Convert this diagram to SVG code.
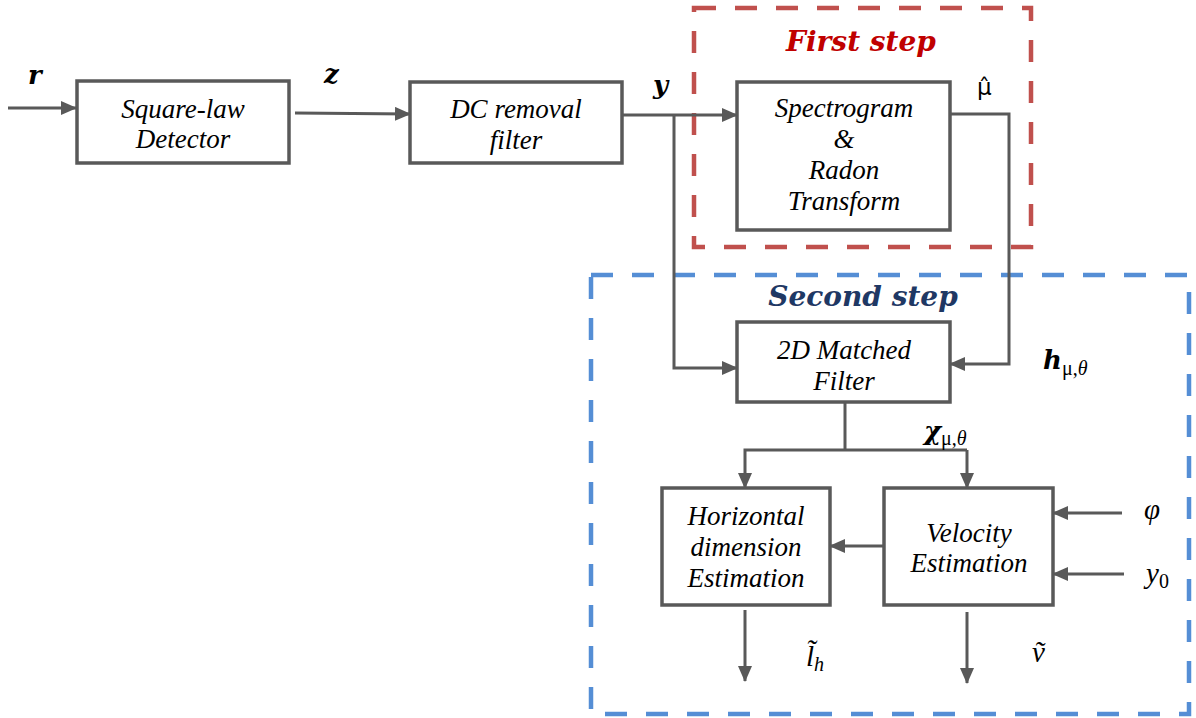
<svg xmlns="http://www.w3.org/2000/svg" width="1196" height="718" viewBox="0 0 1196 718">
  <defs>
    <marker id="arrow" markerUnits="userSpaceOnUse" markerWidth="16" markerHeight="14" refX="15" refY="7" orient="auto">
      <path d="M0,0 L16,7 L0,14 Z" fill="#595959"/>
    </marker>
    <style>
      .box { fill: #ffffff; stroke: #595959; stroke-width: 3.5; }
      .wire { fill: none; stroke: #595959; stroke-width: 3; }
      .arr { fill: none; stroke: #595959; stroke-width: 3; marker-end: url(#arrow); }
      .lbl { font-family: "Liberation Serif", "Times New Roman", serif; font-style: italic; font-size: 27px; fill: #000; text-anchor: middle; }
      .math { font-family: "Liberation Serif", "Times New Roman", serif; font-style: italic; font-size: 29px; fill: #000; }
      .bm { font-family: "DejaVu Serif", serif; font-style: italic; font-weight: bold; font-size: 26px; fill: #000; }
      .sub { font-family: "Liberation Serif", "Times New Roman", serif; font-size: 20px; fill: #000; }
      .step { font-family: "DejaVu Serif", serif; font-style: italic; font-weight: bold; font-size: 28px; text-anchor: middle; }
    </style>
  </defs>

  <!-- stage frames -->
  <g id="first-step">
    <rect x="694" y="8" width="337" height="239" fill="none" stroke="#C0504D" stroke-width="4.5" stroke-dasharray="22 19"/>
    <text class="step" x="861" y="51" fill="#C00000">First step</text>
  </g>
  <g id="second-step">
    <rect x="591" y="275" width="598" height="439" fill="none" stroke="#558ED5" stroke-width="4.5" stroke-dasharray="22 19"/>
    <text class="step" x="863" y="306" fill="#1F3864">Second step</text>
  </g>

  <!-- connectors -->
  <g id="connectors">
    <line class="arr" x1="8" y1="108" x2="76" y2="108"/>
    <line class="arr" x1="295" y1="113" x2="410" y2="114"/>
    <line class="wire" x1="622" y1="115" x2="674" y2="115"/>
    <line class="arr" x1="674" y1="115" x2="737" y2="115"/>
    <polyline class="arr" points="674,115 674,368 737,368"/>
    <polyline class="arr" points="950,114 1009,114 1009,364 950,364"/>
    <line class="wire" x1="845" y1="402" x2="845" y2="450"/>
    <polyline class="arr" points="967,450 745,450 745,488"/>
    <line class="arr" x1="967" y1="450" x2="967" y2="488"/>
    <line class="arr" x1="884" y1="546" x2="830" y2="546"/>
    <line class="arr" x1="1122" y1="513" x2="1053" y2="513"/>
    <line class="arr" x1="1124" y1="574" x2="1053" y2="574"/>
    <line class="arr" x1="745" y1="610" x2="745" y2="681"/>
    <line class="arr" x1="967" y1="612" x2="967" y2="683"/>
  </g>

  <!-- blocks -->
  <g id="square-law">
    <rect class="box" x="77" y="81" width="212" height="82"/>
    <text class="lbl" x="183" y="118">Square-law</text>
    <text class="lbl" x="183" y="148">Detector</text>
  </g>
  <g id="dc-removal">
    <rect class="box" x="410" y="82" width="212" height="81"/>
    <text class="lbl" x="516" y="118">DC removal</text>
    <text class="lbl" x="516" y="149">filter</text>
  </g>
  <g id="spectrogram-radon">
    <rect class="box" x="737" y="82" width="213" height="148"/>
    <text class="lbl" x="844" y="117">Spectrogram</text>
    <text class="lbl" x="844" y="148">&amp;</text>
    <text class="lbl" x="844" y="179">Radon</text>
    <text class="lbl" x="844" y="210">Transform</text>
  </g>
  <g id="matched-filter">
    <rect class="box" x="737" y="322" width="213" height="80"/>
    <text class="lbl" x="844" y="359">2D Matched</text>
    <text class="lbl" x="844" y="390">Filter</text>
  </g>
  <g id="horizontal-dimension">
    <rect class="box" x="662" y="488" width="168" height="117"/>
    <text class="lbl" x="746" y="525">Horizontal</text>
    <text class="lbl" x="746" y="556">dimension</text>
    <text class="lbl" x="746" y="587">Estimation</text>
  </g>
  <g id="velocity">
    <rect class="box" x="884" y="488" width="169" height="117"/>
    <text class="lbl" x="969" y="542">Velocity</text>
    <text class="lbl" x="969" y="572">Estimation</text>
  </g>

  <!-- signal labels -->
  <g id="labels">
    <text class="bm" x="28" y="84">r</text>
    <text class="bm" x="324" y="83">z</text>
    <text class="bm" x="653" y="94">y</text>
    <text x="977" y="95" font-family="DejaVu Sans, sans-serif" font-size="23" fill="#000">μ̂</text>
    <text class="bm" x="1043" y="369">h<tspan class="sub" dy="6" font-weight="normal" font-style="normal">μ,<tspan font-style="italic">θ</tspan></tspan></text>
    <text class="bm" x="924" y="440">χ<tspan class="sub" dy="5" font-weight="normal" font-style="normal">μ,<tspan font-style="italic">θ</tspan></tspan></text>
    <text class="math" x="1144" y="519">φ</text>
    <text class="math" x="1146" y="583">y<tspan class="sub" dy="5" font-style="normal">0</tspan></text>
    <text class="math" x="806" y="666">l̃<tspan class="sub" dy="5">h</tspan></text>
    <text class="math" x="1032" y="662">ṽ</text>
  </g>
</svg>
